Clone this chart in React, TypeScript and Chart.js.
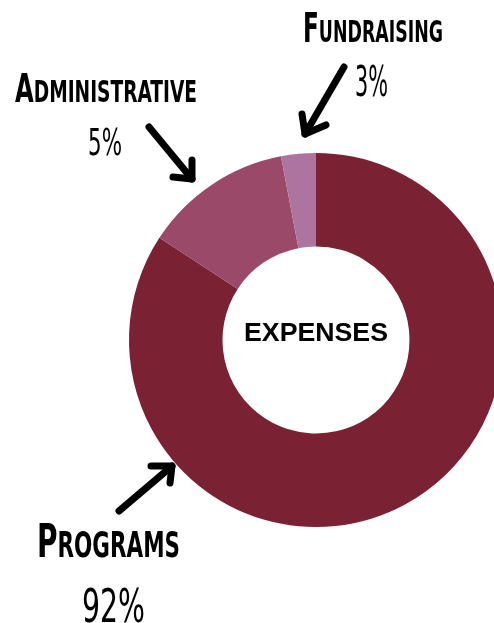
import React, { useEffect, useRef } from "react";
import { Chart, registerables } from "chart.js";

Chart.register(...registerables);

// ---- data ----
const categories = ["Programs", "Administrative", "Fundraising"];
const sliceValues = [84.2, 12.8, 3.0];
const percentLabels = ["92%", "5%", "3%"];
const centerTitle = "EXPENSES";

const LABEL_FONT = '"Liberation Sans Narrow", "DejaVu Sans Condensed", "Liberation Sans", sans-serif';
const NUM_FONT = '"Liberation Sans Narrow", "DejaVu Sans Condensed", "Liberation Sans", sans-serif';
const SANS = '"Liberation Sans", Arial, sans-serif';

function drawSmallCaps(
  ctx: CanvasRenderingContext2D,
  text: string,
  x: number,
  baseline: number,
  big: number,
  small: number,
  width: number
) {
  const first = text.charAt(0).toUpperCase();
  const rest = text.slice(1).toUpperCase();
  ctx.save();
  ctx.font = `bold ${big}px ${LABEL_FONT}`;
  const w1 = ctx.measureText(first).width;
  ctx.font = `bold ${small}px ${LABEL_FONT}`;
  const w2 = ctx.measureText(rest).width;
  const sx = width / (w1 + w2);
  ctx.translate(x, baseline);
  ctx.scale(sx, 1);
  ctx.textAlign = "left";
  ctx.textBaseline = "alphabetic";
  ctx.fillStyle = "#000";
  ctx.font = `bold ${big}px ${LABEL_FONT}`;
  ctx.fillText(first, 0, 0);
  ctx.font = `bold ${small}px ${LABEL_FONT}`;
  ctx.fillText(rest, w1, 0);
  ctx.restore();
}

function drawScaled(
  ctx: CanvasRenderingContext2D,
  text: string,
  x: number,
  baseline: number,
  font: string,
  width: number
) {
  ctx.save();
  ctx.font = font;
  const w = ctx.measureText(text).width;
  ctx.translate(x, baseline);
  ctx.scale(width / w, 1);
  ctx.textAlign = "left";
  ctx.textBaseline = "alphabetic";
  ctx.fillStyle = "#000";
  ctx.fillText(text, 0, 0);
  ctx.restore();
}

function drawArrow(
  ctx: CanvasRenderingContext2D,
  tail: [number, number],
  tip: [number, number],
  a1: [number, number],
  a2: [number, number]
) {
  ctx.save();
  ctx.strokeStyle = "#000";
  ctx.lineWidth = 7;
  ctx.lineCap = "round";
  ctx.lineJoin = "round";
  ctx.beginPath();
  ctx.moveTo(tail[0], tail[1]);
  ctx.lineTo(tip[0], tip[1]);
  ctx.stroke();
  ctx.beginPath();
  ctx.moveTo(a1[0], a1[1]);
  ctx.lineTo(tip[0], tip[1]);
  ctx.lineTo(a2[0], a2[1]);
  ctx.stroke();
  ctx.restore();
}

const annotations = {
  id: "annotations",
  afterDraw(chart: any) {
    const ctx: CanvasRenderingContext2D = chart.ctx;
    const meta = chart.getDatasetMeta(0);
    const arc = meta.data[0];
    const cx = arc.x;
    const cy = arc.y;

    // center title
    drawScaled(ctx, centerTitle, cx - 72, cy + 1, `bold 26px ${SANS}`, 144);

    // Fundraising
    drawSmallCaps(ctx, categories[2], 303, 42, 40, 30, 140);
    drawScaled(ctx, percentLabels[2], 355, 96, `${43}px ${NUM_FONT}`, 33);
    drawArrow(ctx, [344, 67], [305, 134], [302, 114], [326, 125]);

    // Administrative
    drawSmallCaps(ctx, categories[1], 15, 102, 39, 30, 182);
    drawScaled(ctx, percentLabels[1], 88, 155, `${38}px ${NUM_FONT}`, 34);
    drawArrow(ctx, [149, 127], [192, 179], [192, 160], [173, 177]);

    // Programs
    drawSmallCaps(ctx, categories[0], 37, 557, 47, 36, 143);
    drawScaled(ctx, percentLabels[0], 82, 622, `${47}px ${NUM_FONT}`, 63);
    drawArrow(ctx, [119, 511], [172, 466], [151, 466], [170, 483]);
  },
};

export default function App() {
  const ref = useRef<HTMLCanvasElement | null>(null);
  useEffect(() => {
    document.body.style.margin = "0";
    const canvas = ref.current!;
    const chart = new Chart(canvas, {
      type: "doughnut",
      data: {
        labels: categories,
        datasets: [
          {
            data: sliceValues,
            backgroundColor: ["#7a2133", "#9a4a68", "#ae74a0"],
            borderWidth: 0,
          },
        ],
      },
      options: {
        responsive: false,
        animation: false,
        devicePixelRatio: 1,
        cutout: "50%",
        layout: { padding: { left: 129, top: 153, right: 17, bottom: 96 } },
        plugins: {
          legend: { display: false },
          tooltip: { enabled: false },
        },
      },
      plugins: [annotations],
    });
    return () => chart.destroy();
  }, []);
  return (
    <div
      style={{
        position: "fixed",
        left: 0,
        top: 0,
        width: 494,
        height: 623,
        overflow: "hidden",
        background: "#fff",
      }}
    >
      <canvas ref={ref} width={520} height={623} style={{ width: 520, height: 623, display: "block" }} />
    </div>
  );
}
